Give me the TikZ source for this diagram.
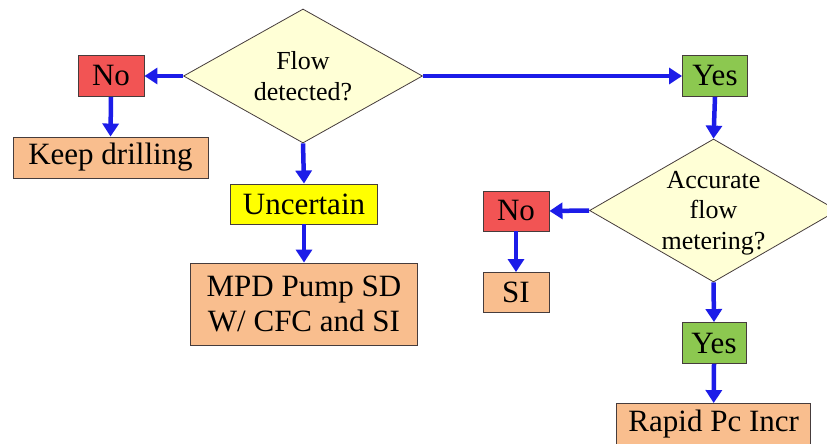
\documentclass[tikz,border=0pt]{standalone}
\usepackage{fontspec}
\setmainfont{Liberation Serif}
\newfontfamily\tnr{Liberation Serif}
\usetikzlibrary{shapes.geometric,arrows.meta}
\definecolor{arrblue}{RGB}{28,28,232}
\definecolor{boxred}{RGB}{242,84,84}
\definecolor{boxgreen}{RGB}{140,200,80}
\definecolor{boxpeach}{RGB}{249,190,142}
\definecolor{boxyellow}{RGB}{255,255,0}
\definecolor{diafill}{RGB}{255,255,214}
\definecolor{edgegray}{RGB}{70,60,60}
\tikzset{
  box/.style={draw=edgegray, line width=0.9pt, inner sep=0pt, align=center,
    font=\tnr\fontsize{31}{35}\selectfont},
  dia/.style={diamond, draw=edgegray, line width=0.8pt, fill=diafill, inner sep=0pt, aspect=1.78},
  diatext/.style={align=center, font=\tnr\fontsize{26}{30.5}\selectfont, inner sep=0pt},
  arr/.style={draw=arrblue, line width=4.5pt, -{Triangle[length=13pt,width=16pt]}}
}
\begin{document}
\begin{tikzpicture}[x=1pt,y=-1pt]
\useasboundingbox (0,0) rectangle (827,444);
\clip (0,0) rectangle (827,444);
\fill[white] (0,0) rectangle (827,444);
% decision 1
\node[dia, minimum width=239pt, minimum height=134pt] (d1) at (303,76) {};
\node[diatext] (t1) at (303,76) {Flow\\detected?};
\node[box, fill=boxred, minimum width=66pt, minimum height=41pt] (no1) at (111,76) {No};
\node[box, fill=boxpeach, minimum width=195pt, minimum height=41pt] (keep) at (110.5,157.5) {Keep drilling};
\node[box, fill=boxyellow, minimum width=147pt, minimum height=40pt] (unc) at (304,204) {Uncertain};
\node[box, fill=boxpeach, minimum width=227pt, minimum height=82pt] (mpd) at (304,304) {MPD Pump SD\\W/ CFC and SI};
\node[box, fill=boxgreen, minimum width=65pt, minimum height=41pt] (yes1) at (715,76) {Yes};
% decision 2
\node[dia, minimum width=248pt, minimum height=143pt] (d2) at (713.5,210.5) {};
\node[diatext] (t2) at (713.5,213) {Accurate\\flow\\metering?};
\node[box, fill=boxred, minimum width=66pt, minimum height=40pt] (no2) at (516,211) {No};
\node[box, fill=boxpeach, minimum width=66pt, minimum height=40pt] (si) at (516,292.5) {SI};
\node[box, fill=boxgreen, minimum width=64pt, minimum height=41pt] (yes2) at (714,343) {Yes};
\node[box, fill=boxpeach, minimum width=194pt, minimum height=42pt] (rapid) at (713.7,424.5) {Rapid Pc Incr};
% connectors
\draw[arr] (d1.west) -- (no1.east);
\draw[arr] (d1.east) -- (yes1.west);
\draw[arr] (d1.south) -- (unc.north);
\draw[arr] (no1.south) -- (keep.north);
\draw[arr] (unc.south) -- (mpd.north);
\draw[arr] (yes1.south) -- (d2.north);
\draw[arr] (d2.west) -- (no2.east);
\draw[arr] (no2.south) -- (si.north);
\draw[arr] (d2.south) -- (yes2.north);
\draw[arr] (yes2.south) -- (rapid.north);
\end{tikzpicture}
\end{document}
